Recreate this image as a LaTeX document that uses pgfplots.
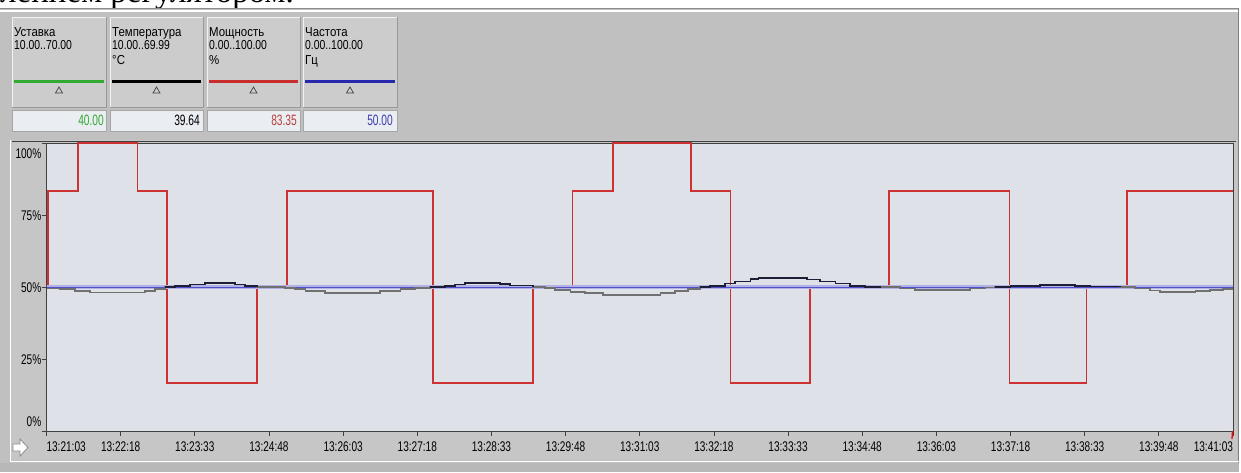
\documentclass[border=0pt]{standalone}
\usepackage{fontspec}
\setmainfont{Liberation Sans}
\newfontfamily\serifface{Liberation Serif}
\usepackage{graphicx}
\usepackage{pgfplots}
\pgfplotsset{compat=1.18}
\usepackage{pgfplotstable}

\definecolor{winbg}{RGB}{192,192,192}
\definecolor{panelbg}{RGB}{198,198,198}
\definecolor{boxbg}{RGB}{204,204,204}
\definecolor{valbg}{RGB}{234,237,241}
\definecolor{plotbg}{RGB}{223,225,232}
\definecolor{redl}{RGB}{205,50,50}
\definecolor{valred}{RGB}{185,60,60}
\definecolor{bluel}{RGB}{80,80,205}
\definecolor{valblue}{RGB}{60,60,170}
\definecolor{bluehalo}{RGB}{178,178,228}
\definecolor{tempdark}{RGB}{30,30,55}
\definecolor{tempgray}{RGB}{112,112,112}
\definecolor{greenl}{RGB}{50,170,50}
\definecolor{blueline}{RGB}{40,40,175}
\definecolor{redline}{RGB}{200,45,45}

\newcommand{\tf}{\fontsize{14}{14}\selectfont}
\newcommand{\cn}[1]{\scalebox{0.72}[1]{#1}}
\newcommand{\hf}{\fontsize{13}{13}\selectfont}
\newcommand{\hn}[1]{\scalebox{0.8}[1]{#1}}
\newcommand{\hw}[1]{\scalebox{0.88}[1]{#1}}
\newcommand{\vf}{\fontsize{15}{15}\selectfont}
\newcommand{\vn}[1]{\scalebox{0.68}[1]{#1}}
\newcommand{\yl}[2]{\smash{\raisebox{#1}{\cn{#2}}}}

\pgfplotstableread{
t v
0 49.5
14 49.2
29 48.7
44 48.1
100 48.6
110 49.3
120 50.0
130 50.3
145 50.9
160 51.4
191 50.9
201 50.3
213 50.0
241 49.7
251 49.2
262 48.5
282 48.0
337 48.5
358 49.2
373 49.7
388 50.0
403 50.3
413 50.9
423 51.5
459 51.0
469 50.5
492 50.0
504 49.7
514 49.1
530 48.4
545 47.8
563 47.2
621 47.8
636 48.5
649 49.2
661 50.0
671 50.4
686 51.2
696 51.9
712 52.7
720 53.1
769 52.6
782 51.9
798 51.2
813 50.4
828 50.1
843 50.0
863 49.5
878 48.9
934 49.5
949 49.8
959 50.0
975 50.3
1005 50.6
1040 50.4
1055 50.2
1086 50.0
1101 49.5
1116 48.8
1126 48.3
1162 48.7
1177 49.0
1190 49.4
1200 49.4
}\temptable

\pgfplotstableread{
t v
0 50
1.7 83.35
32 100
92 83.35
122 16.65
213 50
243 83.35
391 16.65
492 50
532 83.35
573 100
652 83.35
692 16.65
772 50
852 83.35
974 16.65
1052 50
1093 83.35
1200 83.35
}\powertable

\begin{document}
\begin{tikzpicture}[x=1pt,y=1pt]
\useasboundingbox (0,0) rectangle (1241,-472);
\fill[white] (0,0) rectangle (1241,-472);
% cut-off caption line above the window
\begin{scope}
\clip (0,0) rectangle (1241,-8);
\node[anchor=base west, inner sep=0, font=\serifface\fontsize{33}{33}\selectfont] at (0,-2) {лением регулятором.};
\end{scope}
% window
\fill[winbg] (0,-8) rectangle (1239,-472);
\draw[black!45, line width=1] (0,-8.5) -- (1239,-8.5);
\draw[white, line width=2] (0,-11) -- (1239,-11);
\draw[black!50] (1238.5,-8) -- (1238.5,-472);
% header panels
\foreach \a/\b in {12/106,110/203,207/300,303/397} {
  \fill[boxbg] (\a,-17) rectangle (\b,-107);
  \draw[white!90!gray] (\a,-107) -- (\a,-17) -- (\b,-17);
  \draw[black!40] (\b,-17) -- (\b,-107) -- (\a,-107);
  \fill[valbg] (\a,-110) rectangle (\b,-131);
  \draw[black!35] (\a,-110) rectangle (\b,-131);
}
\draw[greenl, line width=3] (14,-81.5) -- (104,-81.5);
\draw[black, line width=3] (112,-81.5) -- (201,-81.5);
\draw[redline, line width=3] (209,-81.5) -- (298,-81.5);
\draw[blueline, line width=3] (305,-81.5) -- (395,-81.5);
\foreach \c in {59,156.5,253.5,350} {
  \draw[black!75, line width=0.7] (\c-3.5,-93) -- (\c+3.5,-93) -- (\c,-87) -- cycle;
}
\node[anchor=base west, inner sep=0, font=\hf] at (14,-36) {\hw{Уставка}};
\node[anchor=base west, inner sep=0, font=\hf] at (14,-49.5) {\hn{10.00..70.00}};
\node[anchor=base west, inner sep=0, font=\hf] at (112,-36) {\hw{Температура}};
\node[anchor=base west, inner sep=0, font=\hf] at (112,-49.5) {\hn{10.00..69.99}};
\node[anchor=base west, inner sep=0, font=\hf] at (112,-64) {\hw{°C}};
\node[anchor=base west, inner sep=0, font=\hf] at (209,-36) {\hw{Мощность}};
\node[anchor=base west, inner sep=0, font=\hf] at (209,-49.5) {\hn{0.00..100.00}};
\node[anchor=base west, inner sep=0, font=\hf] at (209,-64) {\hw{\%}};
\node[anchor=base west, inner sep=0, font=\hf] at (305,-36) {\hw{Частота}};
\node[anchor=base west, inner sep=0, font=\hf] at (305,-49.5) {\hn{0.00..100.00}};
\node[anchor=base west, inner sep=0, font=\hf] at (305,-64) {\hw{Гц}};
\node[anchor=base east, inner sep=0, font=\vf, text=greenl] at (104,-125) {\vn{40.00}};
\node[anchor=base east, inner sep=0, font=\vf, text=black] at (200,-125) {\vn{39.64}};
\node[anchor=base east, inner sep=0, font=\vf, text=valred] at (297,-125) {\vn{83.35}};
\node[anchor=base east, inner sep=0, font=\vf, text=valblue] at (393,-125) {\vn{50.00}};
% chart panel
\fill[panelbg] (11,-140) rectangle (1237,-460);
\draw[white, line width=1.2] (10.5,-140) -- (10.5,-461.5) -- (1241,-461.5);
\fill[black!28] (0,-462.5) rectangle (1239,-472);
\draw[black!75, line width=1.2] (12,-141.8) -- (1236,-141.8);
% arrow icon
\draw[black!45, fill=white, line width=0.8] (13,-444) -- (20,-444) -- (20,-439) -- (28,-447.5) -- (20,-456) -- (20,-451) -- (13,-451) -- cycle;

\begin{axis}[
  at={(46.5pt,-431pt)}, anchor=south west,
  scale only axis, width=1186.5pt, height=288pt,
  xmin=0, xmax=1200, ymin=0, ymax=100,
  axis background/.style={fill=plotbg},
  axis line style={black!75, line width=1pt},
  tick align=outside, major tick length=5pt,
  tick style={black!75, line width=0.8pt},
  xtick pos=bottom, ytick pos=left,
  xtick={0,75,...,1200},
  xticklabels={\rlap{\cn{13:21:03}},\cn{13:22:18},\cn{13:23:33},\cn{13:24:48},\cn{13:26:03},\cn{13:27:18},\cn{13:28:33},\cn{13:29:48},\cn{13:31:03},\cn{13:32:18},\cn{13:33:33},\cn{13:34:48},\cn{13:36:03},\cn{13:37:18},\cn{13:38:33},\cn{13:39:48},\llap{\cn{13:41:03}}},
  ytick={0,25,50,75,100},
  yticklabels={\yl{5pt}{0\%},\yl{-5pt}{25\%},\yl{-5pt}{50\%},\yl{-5pt}{75\%},\yl{-15pt}{100\%}},
  xticklabel style={font=\tf, anchor=north, inner sep=0pt, yshift=-6pt},
  yticklabel style={font=\tf, anchor=east, inner sep=0pt},
  clip=false, unbounded coords=jump,
]
\addplot[draw=redl, line width=1.5pt, const plot, mark=none] table[x=t, y=v] {\powertable};
\addplot[draw=bluehalo, line width=3.5pt, mark=none] coordinates {(0,50) (1200,50)};
\addplot[draw=bluel, line width=1pt, mark=none] coordinates {(0,50) (1200,50)};
\addplot[draw=tempgray, line width=1.8pt, const plot, mark=none] table[x=t, y=v] {\temptable};
\addplot[draw=tempdark, line width=1.8pt, const plot, mark=none, restrict y to domain=50:100] table[x=t, y=v] {\temptable};
\end{axis}
\draw[red, line width=1.3] (1232.5,-431) -- (1232,-439);
\end{tikzpicture}
\end{document}
